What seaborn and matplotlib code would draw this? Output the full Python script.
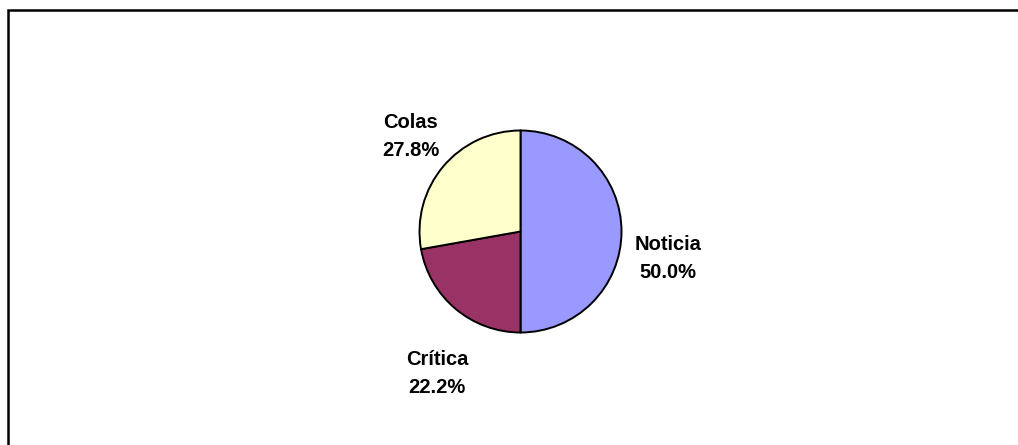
import numpy as np
import matplotlib
matplotlib.use("Agg")
import matplotlib.pyplot as plt
import seaborn as sns
from matplotlib.patches import Rectangle

categories = ["Noticia", "Crítica", "Colas"]
values = [50.0, 22.2, 27.8]
colors = ["#9999FF", "#993366", "#FFFFCC"]

sns.set_theme(style="white")
plt.rcParams['font.family'] = ['Liberation Sans', 'DejaVu Sans']

W, H = 1018, 445
fig = plt.figure(figsize=(W / 100, H / 100), dpi=100)
fig.patch.set_facecolor("white")

R = 101.0
cx, cy = 520.5, 445 - 231.5
ax = fig.add_axes([0, 0, 1, 1])
wedges, _ = ax.pie(values, colors=colors, startangle=90, counterclock=False,
                   wedgeprops=dict(edgecolor="black", linewidth=1.4))
ax.set_aspect("auto")
ax.set_xlim(-cx / R, (W - cx) / R)
ax.set_ylim(-cy / R, (H - cy) / R)
ax.axis("off")

# labels placed around wedge mid-angles
dist = [1.48, 1.60, 1.46]
ang_off = [-9, 9, -2]
y_shift = -0.035
for w, cat, v, d, o in zip(wedges, categories, values, dist, ang_off):
    mid = np.deg2rad((w.theta1 + w.theta2) / 2 + o)
    ax.text(d * np.cos(mid), d * np.sin(mid) + y_shift, f"{cat}\n{v:.1f}%",
            ha="center", va="center", fontsize=14.5, fontweight="bold",
            linespacing=1.6, color="black")

# outer chart frame (extends beyond the canvas right/bottom)
fig.patches.append(Rectangle((8 / W, -0.1), 1.2, (H - 10) / H + 0.1,
                             transform=fig.transFigure, fill=False,
                             edgecolor="black", linewidth=1.8))

fig.savefig("out.png", dpi=100)
